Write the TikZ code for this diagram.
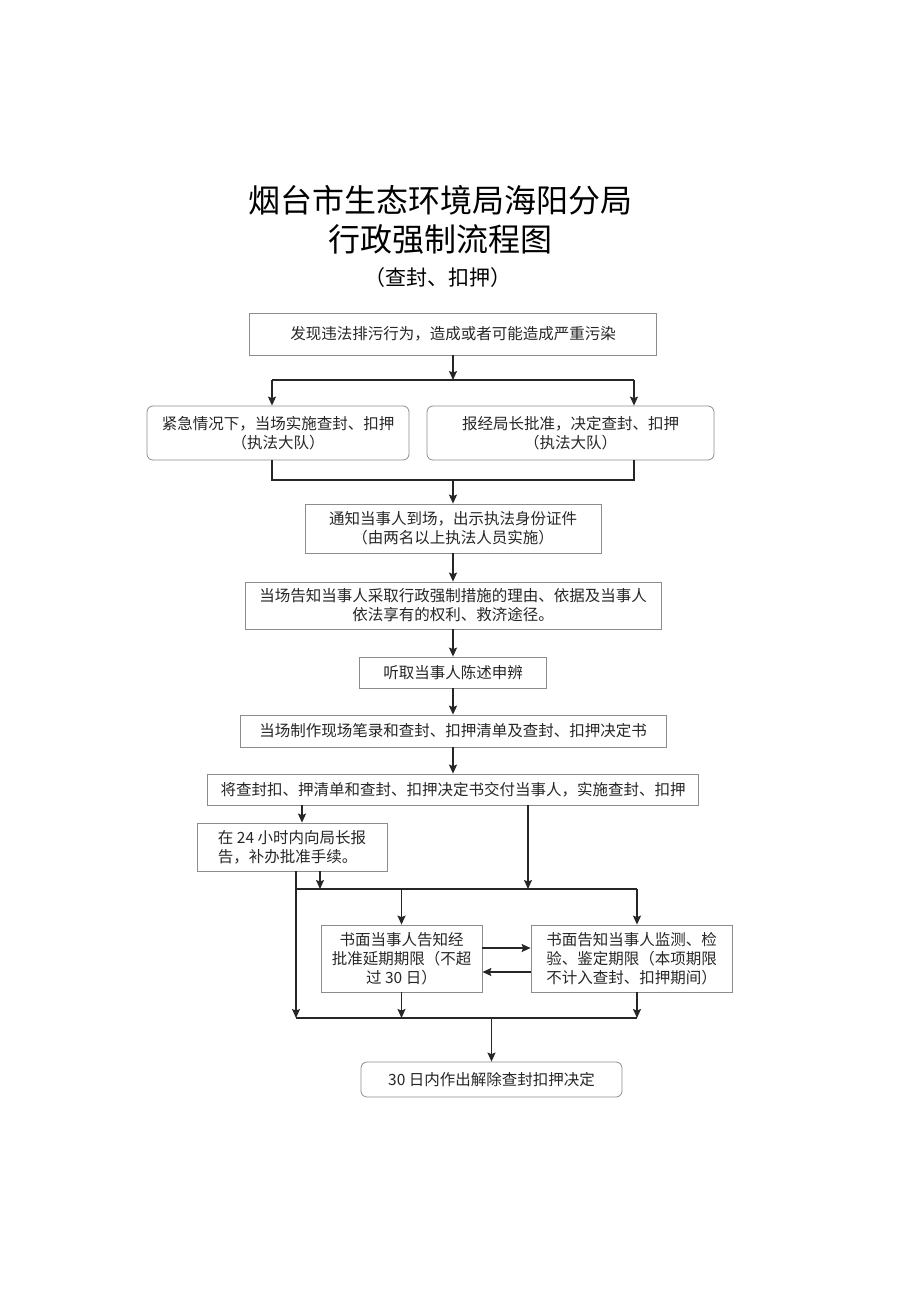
\documentclass[tikz,border=0pt]{standalone}
\usepackage{fontspec}
\setmainfont{Noto Sans CJK SC}
\usepackage{tikz}
\usetikzlibrary{arrows.meta}
\usetikzlibrary{calc}
\tikzstyle{pbox}=[draw=black!45,line width=0.8pt,align=center,inner sep=0pt,font=\fontsize{15.5}{19}\selectfont,text=black!85]
\tikzstyle{rbox}=[pbox,rounded corners=6pt]
\tikzstyle{arr}=[line width=1.4pt,black!85,-{Stealth[length=9pt,width=8pt,inset=1.5pt]}]
\tikzstyle{ln}=[line width=1.4pt,black!85]

\begin{document}
\begin{tikzpicture}[x=1pt,y=-1pt]
        \useasboundingbox (0,0) rectangle (920,1301);

        % title
        \node (t1) at (440,200) {\fontsize{32}{38}\selectfont 烟台市生态环境局海阳分局};
        \node (t2) at (440,239) {\fontsize{32}{38}\selectfont 行政强制流程图};
        \node (t3) at (438,278) {\fontsize{21}{24}\selectfont （查封、扣押）};

        % boxes
        \node[pbox,minimum width=407pt,minimum height=42pt] (b1) at (453,334) {发现违法排污行为，造成或者可能造成严重污染};
        \node[rbox,minimum width=262pt,minimum height=54pt] (b2l) at (278,433) {紧急情况下，当场实施查封、扣押\\（执法大队）};
        \node[rbox,minimum width=287pt,minimum height=54pt] (b2r) at (570.5,433) {报经局长批准，决定查封、扣押\\（执法大队）};
        \node[pbox,minimum width=296pt,minimum height=49pt] (b3) at (453,528.5) {通知当事人到场，出示执法身份证件\\（由两名以上执法人员实施）};
        \node[pbox,minimum width=416pt,minimum height=47pt] (b4) at (453,605.5) {当场告知当事人采取行政强制措施的理由、依据及当事人\\依法享有的权利、救济途径。};
        \node[pbox,minimum width=187pt,minimum height=31pt] (b5) at (453,672.5) {听取当事人陈述申辨};
        \node[pbox,minimum width=426pt,minimum height=32pt] (b6) at (453,731) {当场制作现场笔录和查封、扣押清单及查封、扣押决定书};
        \node[pbox,minimum width=491pt,minimum height=31pt] (b7) at (453,789.5) {将查封扣、押清单和查封、扣押决定书交付当事人，实施查封、扣押};
        \node[pbox,minimum width=190pt,minimum height=48pt,align=left] (b8) at (292,847) {在 24 小时内向局长报\\告，补办批准手续。};
        \node[pbox,minimum width=161pt,minimum height=67pt] (b9) at (401.5,958.5) {书面当事人告知经\\批准延期期限（不超\\过 30 日）};
        \node[pbox,minimum width=201pt,minimum height=67pt,align=left] (b10) at (631.5,958.5) {书面告知当事人监测、检\\验、鉴定期限（本项期限\\不计入查封、扣押期间）};
        \node[rbox,minimum width=261pt,minimum height=35pt] (b11) at (491.5,1079.5) {30 日内作出解除查封扣押决定};

        % split and join under the first box
        \coordinate (f1) at (453,380);
        \coordinate (f1l) at (272,380);
        \coordinate (f1r) at (634,380);
        \draw[arr] (b1) -- (f1);
        \draw[ln] (f1l) -- (f1r);
        \draw[arr] (f1l) -- (f1l |- b2l.north);
        \draw[arr] (f1r) -- (f1r |- b2r.north);

        \coordinate (f2) at (453,480);
        \coordinate (f2l) at (272,480);
        \coordinate (f2r) at (634,480);
        \draw[ln] (f2l |- b2l.south) -- (f2l) -- (f2r) -- (f2r |- b2r.south);
        \draw[arr] (f2) -- (b3);

        % main chain
        \draw[arr] (b3) -- (b4);
        \draw[arr] (b4) -- (b5);
        \draw[arr] (b5) -- (b6);
        \draw[arr] (b6) -- (b7);

        \coordinate (k1) at (302,814);
        \draw[arr] (b7.south -| k1) -- (b8.north -| k1);

        % lower part
        \coordinate (g1l) at (296,889);
        \coordinate (g1r) at (637,889);
        \coordinate (g1a) at (320,889);
        \coordinate (g1b) at (528,889);
        \draw[ln] (g1l) -- (g1r);
        \draw[arr] (g1a |- b8.south) -- (g1a);
        \draw[arr] (g1b |- b7.south) -- (g1b);
        \draw[arr] (g1l -| b9) -- (b9);
        \draw[arr] (g1r) -- (g1r |- b10.north);
        \draw[arr] ([yshift=10.5pt]b9.east) -- ([yshift=10.5pt]b10.west);
        \draw[arr] ([yshift=-13.5pt]b10.west) -- ([yshift=-13.5pt]b9.east);

        \coordinate (g2l) at (296,1018);
        \coordinate (g2r) at (637,1018);
        \draw[arr] (g1l |- b8.south) -- (g2l);
        \draw[ln] (g2l) -- (g2r);
        \draw[arr] (b9) -- (b9 |- g2l);
        \draw[arr] (g2r |- b10.south) -- (g2r);
        \draw[arr] (g2l -| b11) -- (b11);
\end{tikzpicture}
\end{document}
